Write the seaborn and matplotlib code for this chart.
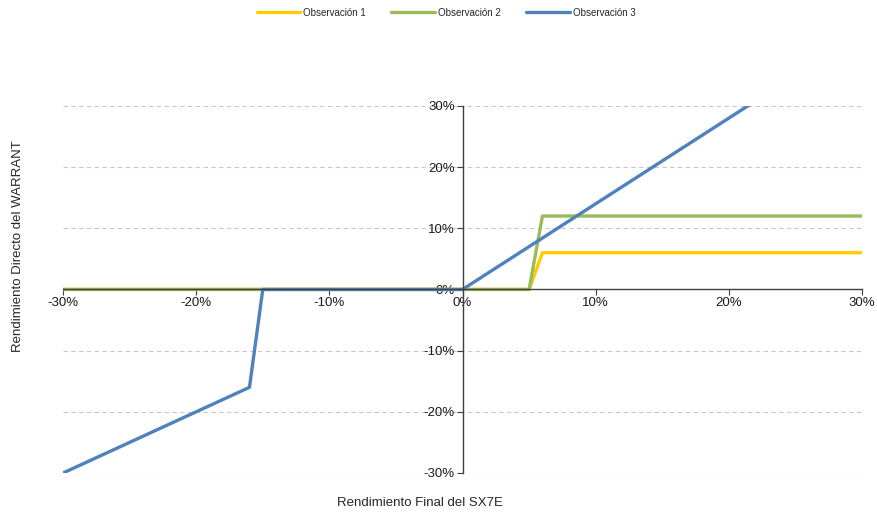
import numpy as np
import pandas as pd
import matplotlib
matplotlib.use('Agg')
import matplotlib.pyplot as plt
import seaborn as sns
from matplotlib.ticker import PercentFormatter

# Datos (en %)
obs1_x = [-30, 5, 6, 30]
obs1_y = [0, 0, 6, 6]
obs2_x = [-30, 5, 6, 30]
obs2_y = [0, 0, 12, 12]
obs3_x = [-30, -16, -15, 0, 5, 10, 15, 20, 25, 30]
obs3_y = [-30, -16, 0, 0, 7, 14, 21, 28, 35, 42]

series = [
    ('Observación 1', obs1_x, obs1_y, '#FFCC00'),
    ('Observación 2', obs2_x, obs2_y, '#9BBB59'),
    ('Observación 3', obs3_x, obs3_y, '#4F81BD'),
]

sns.set_style('white')
plt.rcParams['font.family'] = ['Liberation Sans', 'DejaVu Sans']
plt.rcParams['axes.unicode_minus'] = False

fig = plt.figure(figsize=(8.78, 5.12), dpi=100)
ax = fig.add_axes([0.0718, 0.0762, 0.910, 0.717])

for nombre, xs, ys, color in series:
    df = pd.DataFrame({'x': xs, 'y': ys})
    sns.lineplot(data=df, x='x', y='y', ax=ax, color=color, linewidth=2.4,
                 label=nombre, sort=False, estimator=None)

ax.set_xlim(-30, 30)
ax.set_ylim(-30, 30)
ax.set_xticks(np.arange(-30, 31, 10))
ax.set_yticks(np.arange(-30, 31, 10))
ax.xaxis.set_major_formatter(PercentFormatter(decimals=0))
ax.yaxis.set_major_formatter(PercentFormatter(decimals=0))

for y in [-30, -20, -10, 10, 20, 30]:
    ax.axhline(y, color='#c8c8c8', linestyle=(0, (4, 3)), linewidth=0.8, zorder=0)

ax.spines['left'].set_position(('data', 0))
ax.spines['bottom'].set_position(('data', 0))
ax.spines['right'].set_visible(False)
ax.spines['top'].set_visible(False)
ax.spines['left'].set_color('#404040')
ax.spines['bottom'].set_color('#404040')
ax.spines['left'].set_linewidth(1.0)
ax.spines['bottom'].set_linewidth(1.0)

ax.tick_params(axis='both', which='major', labelsize=9.5, colors='#1a1a1a',
               direction='out', length=4, width=0.8, color='#404040',
               left=True, bottom=True, pad=1.5)
ax.set_xlabel('')
ax.set_ylabel('')

fig.text(0.02, 0.52, 'Rendimiento Directo del WARRANT', rotation=90,
         ha='center', va='center', fontsize=9.5)
fig.text(0.478, 0.017, 'Rendimiento Final del SX7E', ha='center', va='center', fontsize=9.5)

handles, labels = ax.get_legend_handles_labels()
ax.get_legend().remove()
fig.legend(handles, labels, loc='center', bbox_to_anchor=(0.508, 0.975), ncol=3,
           frameon=False, fontsize=7, handlelength=4.5, columnspacing=2.6,
           handletextpad=0.3)

fig.savefig('out.png', dpi=100)
